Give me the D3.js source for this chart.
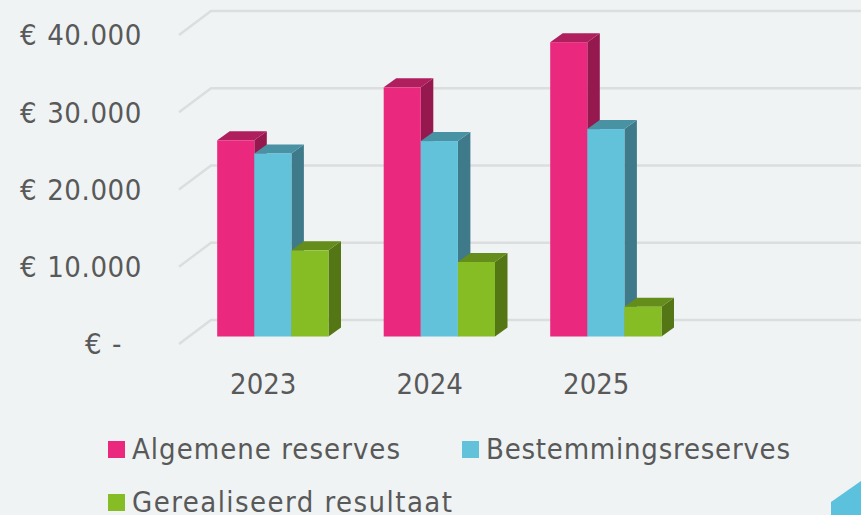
<!DOCTYPE html>
<html><head><meta charset="utf-8">
<script src="https://cdn.jsdelivr.net/npm/d3@7/dist/d3.min.js"></script>
<style>html,body{margin:0;padding:0;background:#eff3f4;overflow:hidden}svg{display:block}
text{font-family:"DejaVu Sans Condensed","DejaVu Sans",sans-serif;font-stretch:condensed;fill:#595959}</style></head><body>
<script>
const categories = ["2023","2024","2025",""];
const seriesNames = ["Algemene reserves","Bestemmingsreserves","Gerealiseerd resultaat"];
const algemeneReserves = [25400,32250,38100];
const bestemmingsreserves = [23700,25300,26850];
const gerealiseerdResultaat = [11150,9650,3850];
const yTicks = [0,10000,20000,30000,40000];
const yTickLabels = ["€ -","€ 10.000","€ 20.000","€ 30.000","€ 40.000"];
const colors = {front:["#ea297e","#61c2da","#86bc24"],top:["#af1f5e","#4892a4","#648d1b"],side:["#95184f","#3f7a8a","#547615"]};

const W=861,H=515;
const svg=d3.select("body").append("svg").attr("width",W).attr("height",H);
svg.append("rect").attr("width",W).attr("height",H).attr("fill","#eff3f4");

const y=d3.scaleLinear().domain([0,40000]).range([344,35]);
const backDx=32, backDy=-24, barDepthDx=12.5, barDepthDy=-9, baseShiftY=-7.5;
const x0=d3.scaleBand().domain(categories).range([190,856]).paddingInner(0);
const groupInset=27.2, barW=37.1;
const x1=d3.scaleBand().domain(seriesNames).range([0,barW*3]);

const line=svg.append("g");
yTicks.forEach(t=>{
  line.append("path").attr("d",d3.line()([[179,y(t)],[179+backDx,y(t)+backDy],[W,y(t)+backDy]]))
    .attr("fill","none").attr("stroke","#dcdddd").attr("stroke-width",2.4);
});

const yAxis=d3.axisLeft(y).tickValues(yTicks).tickSize(0).tickPadding(0)
  .tickFormat((d,i)=>yTickLabels[i]);
const gy=svg.append("g").attr("transform","translate(142,0)").call(yAxis);
gy.select(".domain").remove();
gy.selectAll("text").attr("font-size",29).attr("dy","0.34em").attr("dx",d=>d===0?-20:0)
  .style("letter-spacing","0.6px").style("word-spacing","1px");

const xAxis=d3.axisBottom(x0).tickSize(0).tickPadding(0);
const gx=svg.append("g").attr("transform","translate(-10,372)").call(xAxis);
gx.select(".domain").remove();
gx.selectAll("text").attr("font-size",29).attr("dy","0.34em").attr("y",12);

const yBar=v=>y(v)+baseShiftY;
const values=[algemeneReserves,bestemmingsreserves,gerealiseerdResultaat];
const bars=svg.append("g");
[0,1,2].forEach(ci=>{
  [0,1,2].forEach(s=>{
    const v=values[s][ci], c=categories[ci];
    const xl=x0(c)+groupInset+x1(seriesNames[s]), xr=xl+x1.bandwidth();
    const yt=yBar(v), yb=yBar(0);
    const g=bars.append("g");
    g.append("path").attr("fill",colors.side[s]).attr("d",d3.line()([[xr,yt],[xr+barDepthDx,yt+barDepthDy],[xr+barDepthDx,yb+barDepthDy],[xr,yb]])+"Z");
    g.append("path").attr("fill",colors.top[s]).attr("d",d3.line()([[xl,yt],[xl+barDepthDx,yt+barDepthDy],[xr+barDepthDx,yt+barDepthDy],[xr,yt]])+"Z");
    g.append("rect").attr("x",xl).attr("y",yt).attr("width",xr-xl).attr("height",yb-yt).attr("fill",colors.front[s]);
  });
});

const legendPos=[[108,441],[462,441],[108,494]];
const legendWidths=[268,304,320];
const lg=svg.append("g");
seriesNames.forEach((n,i)=>{
  const [lx,ly]=legendPos[i];
  lg.append("rect").attr("x",lx).attr("y",ly).attr("width",17).attr("height",17).attr("fill",colors.front[i]);
  lg.append("text").attr("x",lx+24).attr("y",ly+18).attr("font-size",29)
    .attr("textLength",legendWidths[i]).attr("lengthAdjust","spacing").text(n);
});

svg.append("path").attr("fill","#5cc1dc").attr("d","M831,502L861,481L861,515L831,515Z");
</script></body></html>
